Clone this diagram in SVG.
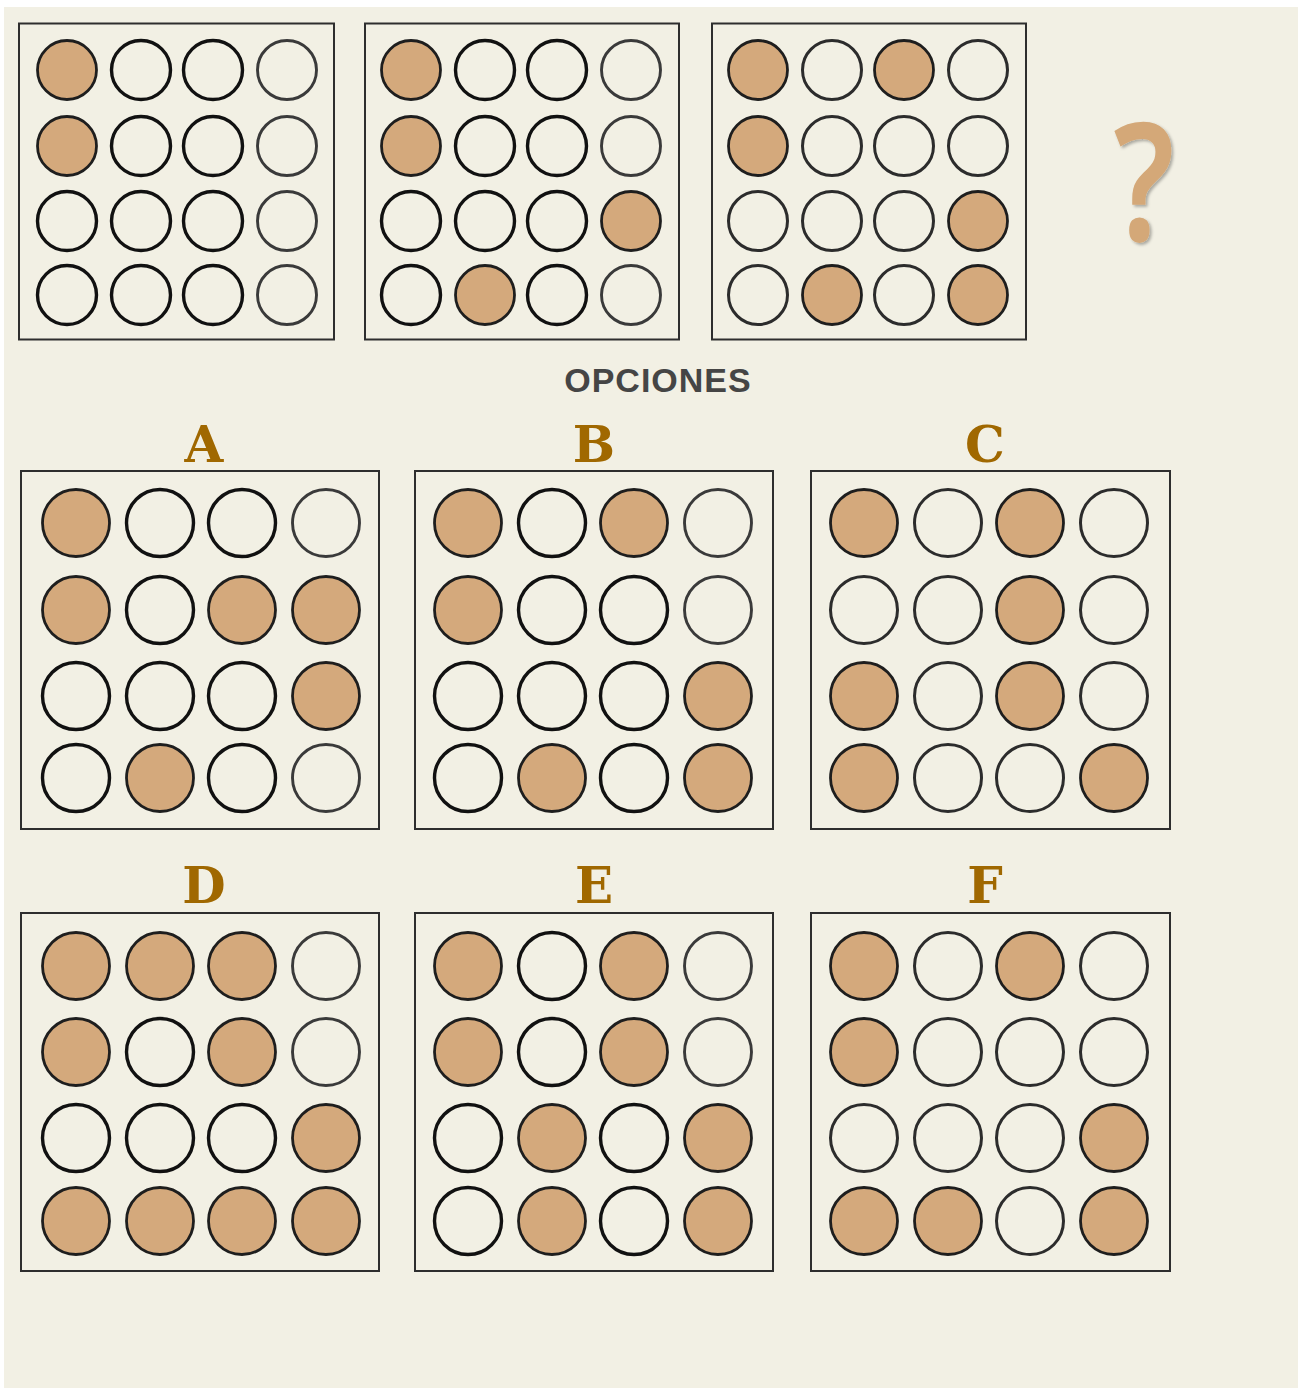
<svg xmlns="http://www.w3.org/2000/svg" width="1298" height="1390" viewBox="0 0 1298 1390">
<style>
.bg{fill:#f2f0e4}
.panel{fill:#f2f0e4;stroke:#2e2e2e;stroke-width:2}
.e{fill:#f2f0e4;stroke:#111;stroke-width:3.4}
.e4{fill:#f2f0e4;stroke:#3a3a3a;stroke-width:2.9}
.g{fill:#f2f0e4;stroke:#2c2c2c;stroke-width:3}
.f{fill:#d4a97c;stroke:#1e1e1e;stroke-width:2.8}
.lbl{font-family:"DejaVu Serif","Liberation Serif",serif;font-weight:bold;font-size:50px;fill:#a06800;text-anchor:middle}
.title{font-family:"Liberation Sans",Arial,sans-serif;font-weight:bold;font-size:34px;fill:#454545;text-anchor:middle;letter-spacing:1px}
.q{font-family:"Noto Sans","Open Sans",sans-serif;font-weight:600;font-size:165px;fill:#d4a878;text-anchor:middle}
</style>
<defs>
<filter id="sh" x="-20%" y="-20%" width="150%" height="150%">
<feDropShadow dx="2" dy="2" stdDeviation="1.5" flood-color="#000" flood-opacity="0.3"/>
</filter>
</defs>
<rect class="bg" x="4" y="7" width="1294" height="1381"/>

<g id="seq1">
<rect class="panel" x="19" y="23.5" width="315" height="316"/>
<circle class="f" cx="67" cy="70" r="29.5"/><circle class="e" cx="141" cy="70" r="29.5"/><circle class="e" cx="213" cy="70" r="29.5"/><circle class="e4" cx="287" cy="70" r="29.5"/>
<circle class="f" cx="67" cy="146" r="29.5"/><circle class="e" cx="141" cy="146" r="29.5"/><circle class="e" cx="213" cy="146" r="29.5"/><circle class="e4" cx="287" cy="146" r="29.5"/>
<circle class="e" cx="67" cy="221" r="29.5"/><circle class="e" cx="141" cy="221" r="29.5"/><circle class="e" cx="213" cy="221" r="29.5"/><circle class="e4" cx="287" cy="221" r="29.5"/>
<circle class="e" cx="67" cy="295" r="29.5"/><circle class="e" cx="141" cy="295" r="29.5"/><circle class="e" cx="213" cy="295" r="29.5"/><circle class="e4" cx="287" cy="295" r="29.5"/>
</g>

<g id="seq2">
<rect class="panel" x="365" y="23.5" width="314" height="316"/>
<circle class="f" cx="411" cy="70" r="29.5"/><circle class="e" cx="485" cy="70" r="29.5"/><circle class="e" cx="557" cy="70" r="29.5"/><circle class="e4" cx="631" cy="70" r="29.5"/>
<circle class="f" cx="411" cy="146" r="29.5"/><circle class="e" cx="485" cy="146" r="29.5"/><circle class="e" cx="557" cy="146" r="29.5"/><circle class="e4" cx="631" cy="146" r="29.5"/>
<circle class="e" cx="411" cy="221" r="29.5"/><circle class="e" cx="485" cy="221" r="29.5"/><circle class="e" cx="557" cy="221" r="29.5"/><circle class="f" cx="631" cy="221" r="29.5"/>
<circle class="e" cx="411" cy="295" r="29.5"/><circle class="f" cx="485" cy="295" r="29.5"/><circle class="e" cx="557" cy="295" r="29.5"/><circle class="e4" cx="631" cy="295" r="29.5"/>
</g>

<g id="seq3">
<rect class="panel" x="712" y="23.5" width="314" height="316"/>
<circle class="f" cx="758" cy="70" r="29.5"/><circle class="g" cx="832" cy="70" r="29.5"/><circle class="f" cx="904" cy="70" r="29.5"/><circle class="g" cx="978" cy="70" r="29.5"/>
<circle class="f" cx="758" cy="146" r="29.5"/><circle class="g" cx="832" cy="146" r="29.5"/><circle class="g" cx="904" cy="146" r="29.5"/><circle class="g" cx="978" cy="146" r="29.5"/>
<circle class="g" cx="758" cy="221" r="29.5"/><circle class="g" cx="832" cy="221" r="29.5"/><circle class="g" cx="904" cy="221" r="29.5"/><circle class="f" cx="978" cy="221" r="29.5"/>
<circle class="g" cx="758" cy="295" r="29.5"/><circle class="f" cx="832" cy="295" r="29.5"/><circle class="g" cx="904" cy="295" r="29.5"/><circle class="f" cx="978" cy="295" r="29.5"/>
</g>

<g id="question" filter="url(#sh)">
<text class="q" x="0" y="0" transform="translate(1144,241) scale(0.8,1)">?</text>
</g>

<g id="title">
<text class="title" x="658" y="392">OPCIONES</text>
</g>

<g id="optA">
<text class="lbl" x="204" y="462">A</text>
<rect class="panel" x="21" y="471" width="358" height="358"/>
<circle class="f" cx="76" cy="523" r="33.5"/><circle class="e" cx="160" cy="523" r="33.5"/><circle class="e" cx="242" cy="523" r="33.5"/><circle class="e4" cx="326" cy="523" r="33.5"/>
<circle class="f" cx="76" cy="610" r="33.5"/><circle class="e" cx="160" cy="610" r="33.5"/><circle class="f" cx="242" cy="610" r="33.5"/><circle class="f" cx="326" cy="610" r="33.5"/>
<circle class="e" cx="76" cy="696" r="33.5"/><circle class="e" cx="160" cy="696" r="33.5"/><circle class="e" cx="242" cy="696" r="33.5"/><circle class="f" cx="326" cy="696" r="33.5"/>
<circle class="e" cx="76" cy="778" r="33.5"/><circle class="f" cx="160" cy="778" r="33.5"/><circle class="e" cx="242" cy="778" r="33.5"/><circle class="e4" cx="326" cy="778" r="33.5"/>
</g>

<g id="optB">
<text class="lbl" x="594" y="462">B</text>
<rect class="panel" x="415" y="471" width="358" height="358"/>
<circle class="f" cx="468" cy="523" r="33.5"/><circle class="e" cx="552" cy="523" r="33.5"/><circle class="f" cx="634" cy="523" r="33.5"/><circle class="e4" cx="718" cy="523" r="33.5"/>
<circle class="f" cx="468" cy="610" r="33.5"/><circle class="e" cx="552" cy="610" r="33.5"/><circle class="e" cx="634" cy="610" r="33.5"/><circle class="e4" cx="718" cy="610" r="33.5"/>
<circle class="e" cx="468" cy="696" r="33.5"/><circle class="e" cx="552" cy="696" r="33.5"/><circle class="e" cx="634" cy="696" r="33.5"/><circle class="f" cx="718" cy="696" r="33.5"/>
<circle class="e" cx="468" cy="778" r="33.5"/><circle class="f" cx="552" cy="778" r="33.5"/><circle class="e" cx="634" cy="778" r="33.5"/><circle class="f" cx="718" cy="778" r="33.5"/>
</g>

<g id="optC">
<text class="lbl" x="985" y="462">C</text>
<rect class="panel" x="811" y="471" width="359" height="358"/>
<circle class="f" cx="864" cy="523" r="33.5"/><circle class="g" cx="948" cy="523" r="33.5"/><circle class="f" cx="1030" cy="523" r="33.5"/><circle class="g" cx="1114" cy="523" r="33.5"/>
<circle class="g" cx="864" cy="610" r="33.5"/><circle class="g" cx="948" cy="610" r="33.5"/><circle class="f" cx="1030" cy="610" r="33.5"/><circle class="g" cx="1114" cy="610" r="33.5"/>
<circle class="f" cx="864" cy="696" r="33.5"/><circle class="g" cx="948" cy="696" r="33.5"/><circle class="f" cx="1030" cy="696" r="33.5"/><circle class="g" cx="1114" cy="696" r="33.5"/>
<circle class="f" cx="864" cy="778" r="33.5"/><circle class="g" cx="948" cy="778" r="33.5"/><circle class="g" cx="1030" cy="778" r="33.5"/><circle class="f" cx="1114" cy="778" r="33.5"/>
</g>

<g id="optD">
<text class="lbl" x="204" y="903">D</text>
<rect class="panel" x="21" y="913" width="358" height="358"/>
<circle class="f" cx="76" cy="966" r="33.5"/><circle class="f" cx="160" cy="966" r="33.5"/><circle class="f" cx="242" cy="966" r="33.5"/><circle class="e4" cx="326" cy="966" r="33.5"/>
<circle class="f" cx="76" cy="1052" r="33.5"/><circle class="e" cx="160" cy="1052" r="33.5"/><circle class="f" cx="242" cy="1052" r="33.5"/><circle class="e4" cx="326" cy="1052" r="33.5"/>
<circle class="e" cx="76" cy="1138" r="33.5"/><circle class="e" cx="160" cy="1138" r="33.5"/><circle class="e" cx="242" cy="1138" r="33.5"/><circle class="f" cx="326" cy="1138" r="33.5"/>
<circle class="f" cx="76" cy="1221" r="33.5"/><circle class="f" cx="160" cy="1221" r="33.5"/><circle class="f" cx="242" cy="1221" r="33.5"/><circle class="f" cx="326" cy="1221" r="33.5"/>
</g>

<g id="optE">
<text class="lbl" x="594" y="903">E</text>
<rect class="panel" x="415" y="913" width="358" height="358"/>
<circle class="f" cx="468" cy="966" r="33.5"/><circle class="e" cx="552" cy="966" r="33.5"/><circle class="f" cx="634" cy="966" r="33.5"/><circle class="e4" cx="718" cy="966" r="33.5"/>
<circle class="f" cx="468" cy="1052" r="33.5"/><circle class="e" cx="552" cy="1052" r="33.5"/><circle class="f" cx="634" cy="1052" r="33.5"/><circle class="e4" cx="718" cy="1052" r="33.5"/>
<circle class="e" cx="468" cy="1138" r="33.5"/><circle class="f" cx="552" cy="1138" r="33.5"/><circle class="e" cx="634" cy="1138" r="33.5"/><circle class="f" cx="718" cy="1138" r="33.5"/>
<circle class="e" cx="468" cy="1221" r="33.5"/><circle class="f" cx="552" cy="1221" r="33.5"/><circle class="e" cx="634" cy="1221" r="33.5"/><circle class="f" cx="718" cy="1221" r="33.5"/>
</g>

<g id="optF">
<text class="lbl" x="985" y="903">F</text>
<rect class="panel" x="811" y="913" width="359" height="358"/>
<circle class="f" cx="864" cy="966" r="33.5"/><circle class="g" cx="948" cy="966" r="33.5"/><circle class="f" cx="1030" cy="966" r="33.5"/><circle class="g" cx="1114" cy="966" r="33.5"/>
<circle class="f" cx="864" cy="1052" r="33.5"/><circle class="g" cx="948" cy="1052" r="33.5"/><circle class="g" cx="1030" cy="1052" r="33.5"/><circle class="g" cx="1114" cy="1052" r="33.5"/>
<circle class="g" cx="864" cy="1138" r="33.5"/><circle class="g" cx="948" cy="1138" r="33.5"/><circle class="g" cx="1030" cy="1138" r="33.5"/><circle class="f" cx="1114" cy="1138" r="33.5"/>
<circle class="f" cx="864" cy="1221" r="33.5"/><circle class="f" cx="948" cy="1221" r="33.5"/><circle class="g" cx="1030" cy="1221" r="33.5"/><circle class="f" cx="1114" cy="1221" r="33.5"/>
</g>

<g id="connectors"></g>
</svg>
